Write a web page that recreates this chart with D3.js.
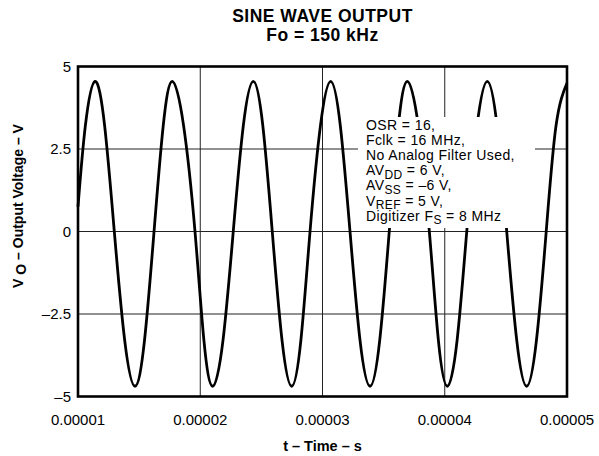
<!DOCTYPE html>
<html>
<head>
<meta charset="utf-8">
<script src="https://cdn.jsdelivr.net/npm/d3@7"></script>
<style>
body { margin: 0; background: #fff; }
text { font-family: "Liberation Sans", Arial, sans-serif; fill: #000; }
</style>
</head>
<body>
<div id="chart"></div>
<script>
// waveform: time in microseconds, output in volts
var timeUs = [10.00, 10.60, 11.39, 12.18, 12.97, 13.82, 14.66, 15.44, 16.22, 16.97,
    17.71, 18.64, 19.57, 20.30, 21.02, 21.86, 22.70, 23.52, 24.34, 25.12,
    25.89, 26.69, 27.48, 28.23, 28.98, 29.83, 30.67, 31.46, 32.25, 33.07,
    33.89, 34.68, 35.46, 36.20, 36.94, 37.84, 38.74, 39.48, 40.21, 41.01,
    41.80, 42.64, 43.48, 44.28, 45.07, 45.89, 46.70, 47.50, 48.30, 49.10,
    50.00];
var voltage = [0.75, 3.2, 4.55, 3.2, 0, -3.3, -4.69, -3.3, 0, 3.2,
    4.55, 3.2, 0, -3.3, -4.69, -3.3, 0, 3.2, 4.55, 3.2,
    0, -3.3, -4.69, -3.3, 0, 3.2, 4.55, 3.2, 0, -3.3,
    -4.69, -3.3, 0, 3.2, 4.55, 3.2, 0, -3.3, -4.69, -3.3,
    0, 3.2, 4.55, 3.2, 0, -3.3, -4.69, -3.3, 0, 3.2,
    4.5];

var xTicks = [0.00001, 0.00002, 0.00003, 0.00004, 0.00005];
var xTickLabels = ["0.00001", "0.00002", "0.00003", "0.00004", "0.00005"];
var yTicks = [5, 2.5, 0, -2.5, -5];
var yTickLabels = ["5", "2.5", "0", "\u20132.5", "\u20135"];

// legend lines: [text, subscript, text after]
var notes = [
    ["OSR = 16,", "", ""],
    ["Fclk = 16 MHz,", "", ""],
    ["No Analog Filter Used,", "", ""],
    ["AV", "DD", " = 6 V,"],
    ["AV", "SS", " = \u20136 V,"],
    ["V", "REF", " = 5 V,"],
    ["Digitizer F", "S", " = 8 MHz"]
];

var svgWidth = 599;
var svgHeight = 456;

var margin = {
    top: 66.5,
    right: 32,
    bottom: 59.5,
    left: 78
};

var width = svgWidth - margin.left - margin.right;
var height = svgHeight - margin.top - margin.bottom;

var svg = d3.select("#chart")
    .append("svg")
    .attr("width", svgWidth)
    .attr("height", svgHeight);

var chartGroup = svg.append("g")
    .attr("transform", `translate(${margin.left}, ${margin.top})`);

var xScale = d3.scaleLinear()
    .domain([0.00001, 0.00005])
    .range([0, width]);

var yScale = d3.scaleLinear()
    .domain([-5, 5])
    .range([height, 0]);

// title
svg.append("text")
    .attr("x", margin.left + width / 2)
    .attr("y", 22)
    .attr("text-anchor", "middle")
    .attr("font-size", "17.5px")
    .attr("letter-spacing", "0.5px")
    .attr("font-weight", "bold")
    .text("SINE WAVE OUTPUT");

svg.append("text")
    .attr("x", margin.left + width / 2)
    .attr("y", 41)
    .attr("text-anchor", "middle")
    .attr("font-size", "17.5px")
    .attr("letter-spacing", "0.5px")
    .attr("font-weight", "bold")
    .text("Fo = 150 kHz");

// grid lines (inner ticks only)
chartGroup.selectAll(".vgrid")
    .data(xTicks.slice(1, -1))
    .enter()
    .append("line")
    .attr("x1", d => xScale(d))
    .attr("x2", d => xScale(d))
    .attr("y1", 0)
    .attr("y2", height)
    .attr("stroke", "#222")
    .attr("stroke-width", 1);

chartGroup.selectAll(".hgrid")
    .data(yTicks.slice(1, -1))
    .enter()
    .append("line")
    .attr("x1", 0)
    .attr("x2", width)
    .attr("y1", d => yScale(d))
    .attr("y2", d => yScale(d))
    .attr("stroke", "#222")
    .attr("stroke-width", 1);

// the waveform
var points = timeUs.map((t, i) => [t * 1e-6, voltage[i]]);

var line = d3.line()
    .x(d => xScale(d[0]))
    .y(d => yScale(d[1]))
    .curve(d3.curveNatural);

chartGroup.append("path")
    .datum(points)
    .attr("d", line)
    .attr("fill", "none")
    .attr("stroke", "#000")
    .attr("stroke-width", 2.8)
    .attr("stroke-linejoin", "round");

// legend box, white so it hides the curve behind it
var noteX = 366 - margin.left;
var noteY = 130 - margin.top;
var noteStep = 15.1;

chartGroup.append("rect")
    .attr("x", 358 - margin.left)
    .attr("y", 117 - margin.top)
    .attr("width", 177)
    .attr("height", 111)
    .attr("fill", "#fff");

var noteText = chartGroup.selectAll(".note")
    .data(notes)
    .enter()
    .append("text")
    .attr("x", noteX)
    .attr("y", (d, i) => noteY + i * noteStep)
    .attr("font-size", "14px")
    .attr("letter-spacing", "0.4px");

noteText.append("tspan").text(d => d[0]);
noteText.filter(d => d[1] !== "")
    .append("tspan")
    .attr("dy", 3.5)
    .attr("font-size", "12px")
    .text(d => d[1]);
noteText.filter(d => d[1] !== "")
    .append("tspan")
    .attr("dy", -3.5)
    .text(d => d[2]);

// frame
chartGroup.append("rect")
    .attr("x", 0)
    .attr("y", 0)
    .attr("width", width)
    .attr("height", height)
    .attr("fill", "none")
    .attr("stroke", "#000")
    .attr("stroke-width", 2.6);

// tick labels
chartGroup.selectAll(".ylab")
    .data(yTicks)
    .enter()
    .append("text")
    .attr("x", -7)
    .attr("y", d => yScale(d))
    .attr("dy", "0.36em")
    .attr("text-anchor", "end")
    .attr("font-size", "15px")
    .text((d, i) => yTickLabels[i]);

chartGroup.selectAll(".xlab")
    .data(xTicks)
    .enter()
    .append("text")
    .attr("x", d => xScale(d))
    .attr("y", height + 28)
    .attr("text-anchor", "middle")
    .attr("font-size", "15px")
    .text((d, i) => xTickLabels[i]);

// axes labels
svg.append("text")
    .attr("x", margin.left + width / 2)
    .attr("y", 451)
    .attr("text-anchor", "middle")
    .attr("font-size", "14.5px")
    .attr("font-weight", "bold")
    .text("t \u2013 Time \u2013 s");

var yTitle = svg.append("text")
    .attr("transform", "translate(23, 206) rotate(-90)")
    .attr("text-anchor", "middle")
    .attr("font-size", "14px")
    .attr("font-weight", "bold");

yTitle.append("tspan").text("V ");
yTitle.append("tspan").attr("dy", 3).text("O");
yTitle.append("tspan").attr("dy", -3).text(" \u2013 Output Voltage \u2013 V");
</script>
</body>
</html>
